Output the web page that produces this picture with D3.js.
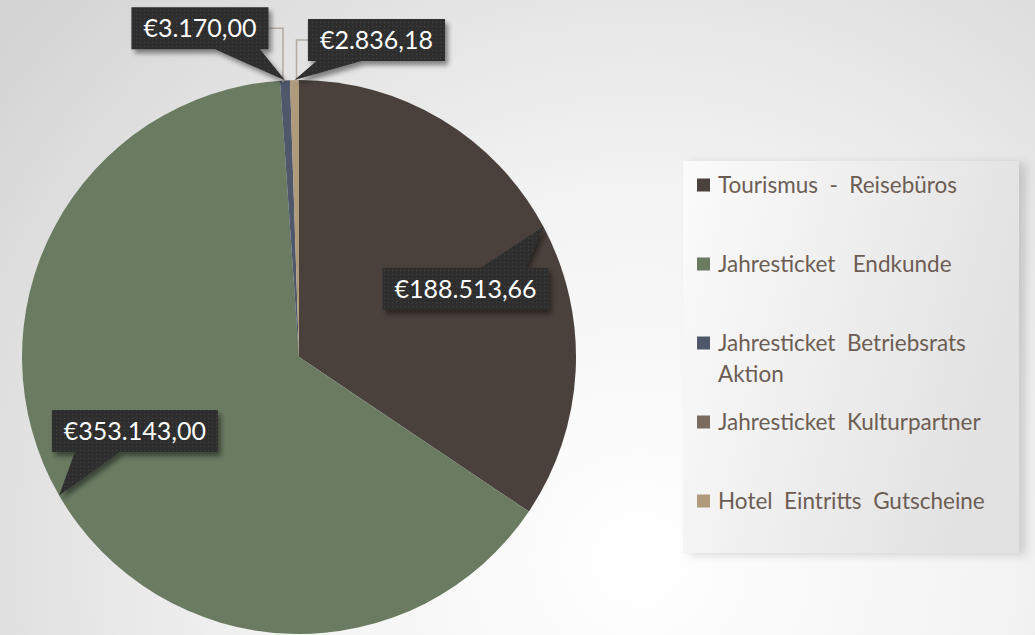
<!DOCTYPE html>
<meta charset="UTF-8"/>
<style>
  body { margin: 0; }
  * { font-family: 'Lato', 'Open Sans', sans-serif }
</style>
<svg width="1035" height="635"></svg>
<script src="https://d3js.org/d3.v7.min.js"></script>
<script>
var categories = ["Tourismus  -  Reisebüros", "Jahresticket   Endkunde", "Jahresticket  Betriebsrats\nAktion", "Jahresticket  Kulturpartner", "Hotel  Eintritts  Gutscheine"];
var values = [188513.66, 353143.00, 3170.00, 0, 2836.18];
var colors = ["#4b413c", "#6a7b62", "#4e586a", "#7b6b5f", "#af9a7b"];

var svg = d3.select("svg"),
    W = +svg.attr("width"),
    H = +svg.attr("height");

var de = d3.formatLocale({decimal: ",", thousands: ".", grouping: [3], currency: ["€", ""]});
var fmt = de.format("$,.2f");

var defs = svg.append("defs");

var bg = defs.append("radialGradient").attr("id", "bg")
    .attr("gradientUnits", "userSpaceOnUse")
    .attr("cx", 640).attr("cy", 560).attr("r", 820);
bg.append("stop").attr("offset", "0%").attr("stop-color", "#ffffff");
bg.append("stop").attr("offset", "45%").attr("stop-color", "#f3f3f3");
bg.append("stop").attr("offset", "100%").attr("stop-color", "#d4d4d4");

var lg = defs.append("linearGradient").attr("id", "lg")
    .attr("x1", 0).attr("y1", 0).attr("x2", 1).attr("y2", 0.3);
lg.append("stop").attr("offset", "0%").attr("stop-color", "#fbfbfb");
lg.append("stop").attr("offset", "100%").attr("stop-color", "#e2e2e2");

var pat = defs.append("pattern").attr("id", "dots")
    .attr("width", 4).attr("height", 4).attr("patternUnits", "userSpaceOnUse");
pat.append("rect").attr("width", 4).attr("height", 4).attr("fill", "#2e2e2e");
pat.append("rect").attr("x", 1).attr("y", 1).attr("width", 1).attr("height", 1).attr("fill", "#454545");

var sh = defs.append("filter").attr("id", "shadow")
    .attr("x", "-20%").attr("y", "-20%").attr("width", "150%").attr("height", "160%");
sh.append("feDropShadow").attr("dx", 3).attr("dy", 4).attr("stdDeviation", 2.5)
    .attr("flood-color", "#000").attr("flood-opacity", 0.45);

var lsh = defs.append("filter").attr("id", "lshadow")
    .attr("x", "-5%").attr("y", "-5%").attr("width", "115%").attr("height", "115%");
lsh.append("feDropShadow").attr("dx", 7).attr("dy", 2).attr("stdDeviation", 5)
    .attr("flood-color", "#000").attr("flood-opacity", 0.15);

svg.append("rect").attr("width", W).attr("height", H).attr("fill", "url(#bg)");

// pie
var r = 277, cx = 299, cy = 357;
var data = categories.map(function(c, i) { return {name: c, value: values[i], color: colors[i]}; });

var pie = d3.pie().sort(null).value(function(d) { return d.value; });
var arc = d3.arc().innerRadius(0).outerRadius(r);
var arcs = pie(data);

var g = svg.append("g").attr("transform", "translate(" + cx + "," + cy + ")");

g.selectAll("path.slice")
    .data(arcs)
  .enter().append("path")
    .attr("class", "slice")
    .attr("fill", function(d) { return d.data.color; })
    .attr("d", arc);

function pt(a, rr) { return [Math.sin(a) * rr, -Math.cos(a) * rr]; }

// callouts
var lab = g.append("g");
var smallCount = 0;
arcs.forEach(function(d) {
  if (!d.value) return;
  var mid = (d.startAngle + d.endAngle) / 2;
  var tip = pt(mid, r), c, small = (d.endAngle - d.startAngle) < 0.2;
  if (!small) {
    c = pt(mid + 0.1, r * 0.65);
  } else {
    c = smallCount === 0 ? [tip[0] - 85, tip[1] - 52] : [tip[0] + 82, tip[1] - 40];
    smallCount++;
  }
  var grp = lab.append("g");
  var t = grp.append("text")
      .attr("x", c[0]).attr("y", c[1])
      .attr("dy", "0.36em")
      .attr("text-anchor", "middle")
      .attr("fill", "#ffffff")
      .style("font-size", "25px")
      .text(fmt(d.value));
  var tw = t.node().getComputedTextLength();
  var x0 = c[0] - tw / 2 - 12, x1 = c[0] + tw / 2 + 12,
      y0 = c[1] - 21, y1 = c[1] + 21;

  if (small) {
    // leader line from box side to slice
    var ex = tip[0] < c[0] ? x0 : x1;
    var lx = tip[0] < c[0] ? tip[0] + 2 : tip[0] - 2;
    lab.insert("path", ":first-child")
        .attr("d", "M" + ex + "," + c[1] + "H" + lx + "V" + (tip[1] + 2))
        .attr("fill", "none")
        .attr("stroke", "#b3aaa2")
        .attr("stroke-width", 1.5);
  }

  var s = tip[0] > c[0] ? 1 : -1;
  var a = Math.min(c[0] + s * 15, c[0] + s * 60), b = Math.max(c[0] + s * 15, c[0] + s * 60);
  var p;
  if (tip[1] < y0) {
    p = [[x0, y0], [a, y0], tip, [b, y0], [x1, y0], [x1, y1], [x0, y1]];
  } else {
    p = [[x0, y0], [x1, y0], [x1, y1], [b, y1], tip, [a, y1], [x0, y1]];
  }
  grp.insert("path", "text")
      .attr("d", "M" + p.join("L") + "Z")
      .attr("fill", "url(#dots)")
      .attr("filter", "url(#shadow)");
});

// legend
var leg = svg.append("g");
leg.append("rect")
    .attr("x", 683).attr("y", 161).attr("width", 336).attr("height", 392)
    .attr("fill", "url(#lg)")
    .attr("filter", "url(#lshadow)");

var rows = leg.selectAll("g.row")
    .data(data)
  .enter().append("g")
    .attr("class", "row")
    .attr("transform", function(d, i) { return "translate(697," + (185 + i * 79) + ")"; });

rows.append("rect")
    .attr("y", -6.5).attr("width", 13).attr("height", 13)
    .attr("fill", function(d) { return d.color; });

rows.append("text")
    .attr("fill", "#6c5d54")
    .style("font-size", "22.5px")
    .style("white-space", "pre")
    .each(function(d) {
      var lines = d.name.split("\n");
      d3.select(this).selectAll("tspan")
          .data(lines)
        .enter().append("tspan")
          .attr("x", 21)
          .attr("y", function(l, j) { return 7.5 + j * 31; })
          .text(function(l) { return l; });
    });
</script>
